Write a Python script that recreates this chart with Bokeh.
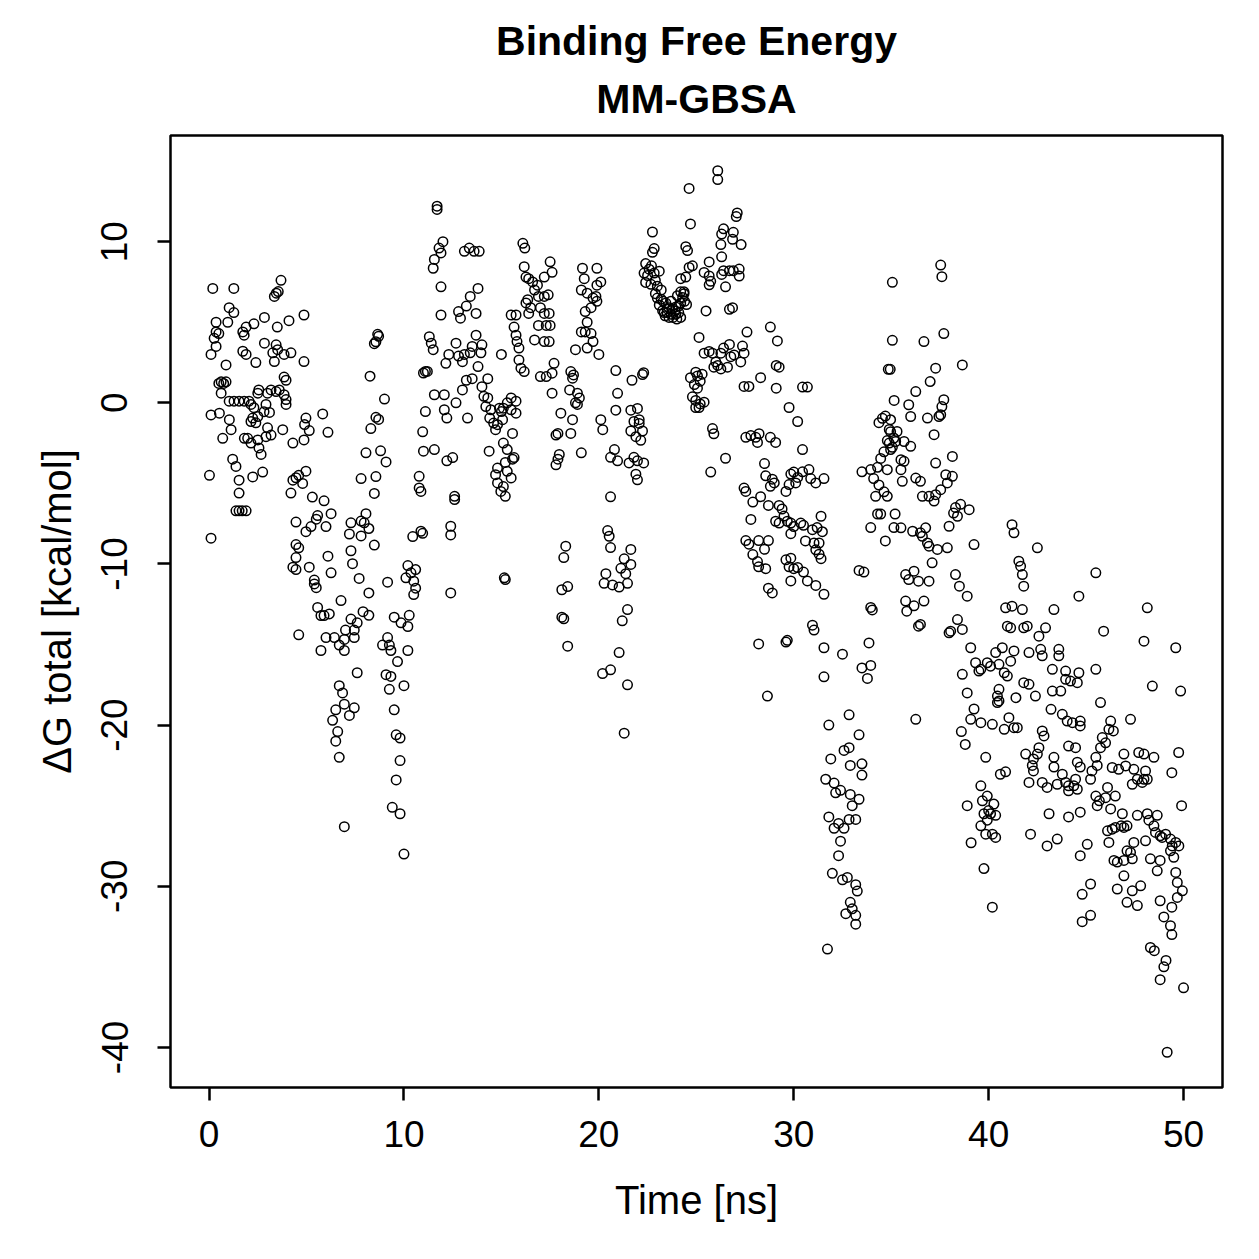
from bokeh.plotting import figure
from bokeh.models import Range1d, FixedTicker, Title, ColumnDataSource
from bokeh.embed import file_html
from bokeh.resources import INLINE

# ---- data (time [ns], dG total [kcal/mol]) ----
seg_00_05 = [(0.02,-4.5),(0.1,3.0),(0.1,-0.75),(0.1,-8.4),(0.19,7.1),(0.26,4.0),(0.36,3.5),(0.36,4.4),(0.36,5.0),(0.5,4.3),
 (0.53,-0.64),(0.5,1.2),(0.62,0.6),(0.62,1.3),(0.7,-2.2),(0.75,1.2),(0.87,1.3),(0.87,2.35),(0.96,5.0),(1.03,5.9),(1.03,0.1),
 (1.04,-1.05),(1.13,-1.67),(1.21,-3.5),(1.27,7.1),(1.27,5.6),(1.28,0.1),(1.38,-3.95),(1.38,-6.7),(1.54,-4.8),(1.54,-5.6),
 (1.54,-6.7),(1.54,0.1),(1.7,-6.7),(1.73,4.4),(1.73,3.2),(1.8,4.2),(1.8,0.1),(1.81,-2.2),(1.9,-6.7),(1.9,4.7),(1.9,3.0),
 (1.98,-2.2),(2.05,0.1),(2.15,-0.1),(2.15,-1.16),(2.15,-2.5),(2.24,-0.95),(2.24,-4.6),(2.3,4.9),(2.3,-0.3),(2.4,2.5),
 (2.4,-1.24),(2.5,-0.85),(2.5,-2.3),(2.5,0.6),(2.55,0.8),(2.56,-2.8),(2.67,-3.2),(2.75,-4.3),(2.82,-0.55),(2.84,5.3),
 (2.84,3.7),(2.92,-0.1),(2.92,-2.1),(3.0,0.6),(3.0,-1.55),(3.1,-0.6),(3.18,0.8),(3.18,-2.0),(3.27,3.1),(3.35,2.56),
 (3.35,6.6),(3.44,3.6),(3.44,0.7),(3.45,6.8),(3.5,4.7),(3.52,3.3),(3.55,6.9),(3.6,0.8),(3.69,7.6),(3.78,-1.67),(3.85,3.0),
 (3.85,1.6),(3.85,0.5),(3.95,1.4),(3.95,0.2),(3.95,-0.1),(4.1,5.1),(4.2,3.1),(4.2,-5.6),(4.3,-2.5),(4.3,-4.8),(4.3,-10.2),
 (4.46,-4.65),(4.46,-7.4),(4.46,-8.8),(4.46,-9.6),(4.46,-10.35),(4.6,-4.5),(4.6,-9.0),(4.6,-14.4),(4.8,-5.0),(4.87,-2.3),
 (4.87,5.45),(4.87,2.56),(4.9,-1.35),(4.97,-0.95),(4.97,-8.0)]

seg_05_10 = [(8.65,4.25),(8.7,4.13),(8.48,3.67),(8.56,3.79),(8.26,1.65),(9.0,0.23),(8.56,-0.9),(8.7,-1.03),(8.3,-1.6),
 (5.83,-0.69),(5.14,-1.72),(6.1,-1.83),(8.05,-3.1),(8.8,-2.98),(9.08,-3.67),(4.97,-4.24),(7.8,-4.7),(8.56,-4.58),
 (8.48,-5.62),(5.3,-5.85),(5.9,-6.08),(5.57,-7.0),(5.5,-7.22),(6.26,-6.88),(6.0,-7.68),(5.23,-7.68),(8.05,-6.88),
 (7.8,-7.34),(7.96,-7.45),(8.2,-7.8),(7.28,-7.45),(7.2,-8.14),(7.8,-8.26),(8.48,-8.83),(7.28,-9.18),(7.36,-9.98),
 (6.1,-9.52),(6.26,-10.55),(5.14,-10.2),(5.4,-11.0),(5.4,-11.24),(5.5,-11.47),(7.7,-10.9),(8.2,-11.8),(9.16,-11.13),
 (6.77,-12.27),(5.57,-12.7),(5.74,-13.2),(5.9,-13.2),(6.17,-13.1),(6.0,-14.57),(6.43,-14.57),(6.68,-15.03),(6.94,-15.37),
 (5.74,-15.37),(7.28,-13.42),(7.6,-13.65),(7.9,-12.96),(8.2,-13.19),(7.0,-14.1),(7.45,-14.1),(6.94,-14.68),(7.45,-14.57),
 (9.5,-13.3),(9.85,-13.65),(10.27,-13.19),(10.2,-13.88),(10.2,-15.37),(8.9,-15.03),(9.16,-14.57),(9.25,-15.03),
 (9.33,-15.37),(9.67,-16.06),(9.08,-16.87),(9.33,-16.98),(9.25,-17.78),(10.0,-17.55),(9.5,-19.05),(7.6,-16.75),
 (6.68,-17.55),(6.85,-18.0),(6.5,-19.05),(6.94,-18.7),(7.45,-18.93),(7.2,-19.4),(6.34,-19.7),(6.6,-20.4),(6.5,-21.0),
 (6.68,-22.0),(6.94,-26.3),(9.6,-20.6),(9.8,-20.8),(9.8,-22.2),(9.6,-23.4),(9.4,-25.1),(9.8,-25.5),(10.0,-28.0)]

seg_10_15 = [(11.7,12.2),(11.7,12.0),(12.0,10.0),(11.8,9.6),(11.9,9.3),(11.56,8.9),(11.5,8.35),(13.1,9.4),(13.35,9.6),
 (13.6,9.4),(13.86,9.4),(11.9,7.2),(13.8,7.1),(13.4,6.6),(13.2,6.0),(12.8,5.66),(12.9,5.25),(13.7,5.55),(11.9,5.45),
 (15.5,5.45),(13.7,4.2),(14.0,3.6),(12.67,3.7),(13.4,3.1),(13.1,3.0),(12.8,2.9),(12.3,3.0),(13.5,3.5),(13.95,3.1),
 (13.8,2.25),(12.15,2.45),(13.0,2.55),(15.0,3.0),(11.3,4.1),(11.4,3.7),(11.5,3.3),(11.1,1.95),(11.0,1.85),(11.2,1.95),
 (13.2,1.4),(13.5,1.5),(14.3,1.5),(13.0,0.8),(14.0,1.0),(11.56,0.5),(12.07,0.5),(12.67,0.0),(12.07,-0.43),(12.2,-0.95),
 (11.1,-0.54),(13.26,-0.95),(14.1,0.4),(14.3,0.3),(14.2,-0.23),(14.46,-0.43),(14.9,-0.33),(15.0,-0.54),(14.4,-0.95),
 (14.6,-1.26),(14.8,-1.36),(15.06,-1.05),(15.3,0.0),(15.5,-0.43),(10.96,-1.8),(11.0,-3.0),(11.56,-2.9),(12.5,-3.4),
 (12.2,-3.6),(14.7,-1.67),(14.37,-3.0),(15.1,-2.5),(15.3,-2.9),(14.8,-4.05),(14.7,-4.46),(14.8,-4.97),(15.1,-5.2),
 (14.97,-5.5),(15.2,-5.8),(10.78,-4.56),(10.78,-5.28),(10.87,-5.5),(12.6,-5.8),(12.6,-6.0),(10.45,-8.3),(10.87,-7.97),
 (10.96,-8.1),(12.4,-7.66),(12.4,-8.2),(10.2,-10.1),(10.36,-10.55),(10.6,-10.35),(10.1,-10.86),(10.5,-11.07),
 (10.6,-11.5),(10.5,-11.9),(12.4,-11.8),(15.15,-10.86),(15.2,-10.97)]

seg_15_20 = [(16.1,9.9),(16.2,9.6),(17.5,8.75),(17.6,8.1),(17.2,7.8),(16.17,8.45),(16.26,7.8),(16.4,7.7),(16.6,7.5),
 (16.85,7.3),(16.7,7.0),(16.35,6.4),(16.26,6.2),(16.5,5.9),(16.4,5.55),(16.9,6.6),(17.2,6.6),(17.4,6.7),(17.0,5.9),
 (17.2,5.55),(17.45,5.55),(17.5,4.8),(17.3,4.8),(16.9,4.8),(15.75,5.45),(15.65,4.7),(15.75,4.2),(15.8,3.8),(15.9,3.4),
 (15.9,2.66),(16.0,2.15),(16.17,1.94),(16.7,3.9),(17.2,3.8),(17.45,3.8),(19.16,8.35),(19.9,8.35),(19.25,7.7),(20.1,7.5),
 (19.9,7.3),(19.1,7.0),(19.4,6.8),(19.7,6.5),(19.85,6.6),(19.9,6.3),(19.6,5.9),(19.3,5.66),(19.4,5.0),(19.1,4.4),
 (19.3,4.4),(19.6,4.3),(19.7,3.8),(20.0,3.0),(19.4,3.4),(18.8,3.3),(17.7,2.45),(17.6,1.84),(17.3,1.63),(17.0,1.63),
 (17.6,0.6),(18.56,1.94),(18.7,1.73),(18.65,1.53),(18.5,0.8),(18.9,0.6),(19.0,0.3),(18.8,0.0),(18.9,-0.1),(18.05,-0.64),
 (18.65,-1.05),(18.56,-1.9),(17.9,-1.9),(17.8,-2.0),(20.2,-1.67),(15.5,0.3),(15.75,0.1),(15.75,-0.64),(15.1,-0.33),
 (15.57,-1.9),(15.65,-3.4),(15.57,-3.5),(15.2,-3.7),(15.3,-4.25),(15.5,-4.66),(17.97,-3.2),(17.9,-3.5),(17.8,-3.85),
 (19.1,-3.1),(18.3,-8.9),(18.2,-9.6),(18.4,-11.4),(18.1,-11.6),(18.1,-13.3),(18.2,-13.4),(18.4,-15.1)]

seg_20_25 = [(24.63,13.3),(24.7,11.1),(22.75,10.6),(22.84,9.57),(22.75,9.34),(24.46,9.69),(24.55,9.45),(24.63,8.4),
 (24.46,7.8),(22.4,8.64),(22.58,8.29),(22.32,8.05),(22.84,8.05),(23.1,8.17),(22.4,7.47),(22.67,7.35),(23.0,7.24),
 (22.9,6.77),(23.2,6.42),(23.1,6.07),(23.27,5.72),(23.5,5.84),(23.44,6.19),(23.7,6.31),(23.78,5.84),(23.95,5.95),
 (24.2,6.19),(24.3,6.54),(24.37,6.77),(24.1,5.6),(23.95,5.49),(23.7,5.49),(23.5,5.6),(23.35,5.6),(24.03,6.65),(24.2,6.89),
 (24.37,6.89),(22.5,7.9),(22.7,8.5),(23.0,6.5),(23.3,6.3),(23.6,5.3),(23.8,5.3),(24.0,5.2),(23.9,5.7),(23.6,5.9),
 (24.1,6.0),(24.4,6.3),(24.5,6.1),(23.4,5.4),(23.2,7.0),(22.9,7.6),(24.2,5.3),(24.2,7.7),(20.87,2.0),(21.7,1.4),
 (22.24,1.75),(22.3,1.87),(20.96,0.59),(20.87,-0.46),(21.64,-0.46),(21.98,-0.35),(22.07,-1.05),(21.8,-1.16),(22.07,-1.28),
 (22.24,-1.75),(21.64,-1.75),(21.9,-2.1),(22.15,-2.33),(20.8,-2.9),(20.6,-3.38),(20.96,-3.6),(21.55,-3.73),(21.8,-3.38),
 (21.98,-3.6),(22.3,-3.73),(21.9,-4.43),(21.98,-4.78),(20.1,-1.05),(20.6,-5.83),(20.45,-7.93),(20.53,-8.28),(20.6,-8.98),
 (21.64,-9.1),(21.3,-9.68),(21.13,-10.27),(21.64,-10.03),(21.38,-10.6),(20.36,-10.6),(20.27,-11.2),(20.7,-11.3),
 (21.04,-11.43),(21.47,-11.2),(21.47,-12.83),(21.2,-13.53),(21.04,-15.5),(20.19,-16.8),(20.6,-16.57),(21.47,-17.5),
 (21.3,-20.5)]

seg_25_30 = [(26.1,14.4),(26.1,13.85),(27.1,11.78),(27.05,11.56),(26.4,10.8),(26.3,10.47),(26.9,10.58),(26.86,10.15),
 (27.3,9.82),(26.26,9.82),(26.3,9.06),(24.8,8.5),(25.66,8.74),(25.4,8.09),(25.66,7.87),(25.74,7.54),(25.66,7.32),
 (26.4,8.2),(26.7,8.2),(26.9,8.2),(27.2,8.3),(27.2,7.87),(26.3,7.97),(26.5,7.2),(25.5,5.7),(26.7,5.8),(26.86,5.9),
 (28.8,4.7),(29.16,3.84),(27.6,4.39),(25.14,4.06),(25.4,3.08),(25.66,3.19),(25.83,3.08),(26.26,3.08),(26.4,3.4),
 (26.7,3.62),(26.94,2.97),(26.77,2.86),(27.37,3.52),(27.45,3.08),(27.28,2.54),(26.0,2.54),(26.1,2.32),(26.6,2.21),
 (26.26,2.1),(25.9,2.21),(24.97,1.9),(25.06,1.67),(25.3,1.78),(24.7,1.56),(25.2,1.34),(24.9,1.13),(25.06,0.91),
 (24.8,0.37),(24.97,0.15),(25.2,-0.07),(25.4,0.04),(25.14,-0.29),(24.97,-0.29),(29.1,2.32),(29.25,2.21),(29.1,0.91),
 (28.3,1.56),(27.45,1.02),(27.7,1.02),(29.76,-0.29),(30.2,-1.16),(25.83,-1.6),(25.9,-1.92),(26.5,-3.44),(25.74,-4.3),
 (27.54,-2.14),(27.8,-2.03),(28.05,-2.14),(28.14,-2.46),(28.22,-1.92),(28.8,-2.14),(29.07,-2.46),(28.5,-3.77),
 (28.56,-4.53),(28.9,-4.74),(29.0,-4.97),(28.8,-5.18),(29.85,-4.42),(30.0,-4.3),(30.2,-4.63),(29.76,-5.07),(29.6,-5.5),
 (30.1,-4.97),(27.45,-5.29),(27.54,-5.5),(27.9,-6.16),(28.3,-5.83),(28.7,-6.37),(29.25,-6.37),(29.4,-6.59),(29.5,-7.03),
 (29.07,-7.35),(29.25,-7.46),(29.67,-7.35),(29.85,-7.46),(30.0,-7.68),(27.8,-7.24),(29.85,-8.12),(27.54,-8.55),
 (27.7,-8.77),(28.2,-8.55),(28.5,-9.09),(28.7,-8.55),(27.9,-9.42),(28.14,-9.85),(28.2,-10.18),(28.56,-10.29),
 (29.6,-9.74),(29.85,-9.64),(29.76,-10.18),(30.0,-10.29),(28.7,-11.5),(28.9,-11.8),(28.2,-14.96),(29.6,-14.85),
 (29.67,-14.74),(28.65,-18.2)]

seg_30_35 = [(35.06,7.48),(35.06,3.88),(34.85,2.08),(34.95,2.08),(35.15,0.15),(30.45,0.98),(30.7,0.98),(30.45,-2.9),
 (30.45,-4.28),(30.78,-4.14),(30.87,-4.7),(31.13,-4.97),(31.55,-4.7),(31.4,-7.04),(31.47,-8.0),(31.2,-7.74),(30.96,-7.87),
 (30.5,-7.6),(30.36,-7.46),(30.6,-8.57),(31.04,-8.7),(31.13,-9.12),(31.3,-9.39),(31.4,-9.67),(31.3,-8.7),(30.2,-10.22),
 (30.5,-10.5),(30.7,-11.05),(31.13,-11.33),(31.55,-11.88),(29.85,-11.05),(30.96,-13.8),(31.04,-14.1),(31.55,-15.2),
 (32.5,-15.6),(31.55,-17.0),(33.5,-4.28),(33.95,-4.14),(34.3,-4.0),(34.46,-3.45),(34.63,-3.04),(34.8,-2.34),(34.9,-1.65),
 (34.37,-1.23),(34.55,-0.96),(34.7,-0.82),(34.97,-1.79),(35.06,-2.76),(34.1,-4.7),(34.37,-5.1),(34.63,-5.52),(34.2,-5.8),
 (34.3,-6.9),(34.46,-6.9),(33.95,-7.74),(34.7,-8.57),(35.14,-7.74),(35.2,-6.9),(33.35,-10.4),(33.6,-10.5),(33.95,-12.7),
 (34.03,-12.85),(33.86,-14.9),(33.5,-16.45),(33.95,-16.3),(33.78,-17.1),(32.84,-19.36),(31.8,-20.0),(32.58,-21.57),
 (32.84,-21.4),(33.35,-20.6),(31.9,-22.1),(32.9,-22.5),(33.5,-22.4),(33.5,-23.1),(31.64,-23.36),(32.07,-23.6),
 (32.15,-24.2),(32.4,-24.05),(32.9,-24.3),(33.35,-24.6),(33.0,-25.0),(31.8,-25.7),(32.07,-26.4),(32.3,-26.1),
 (32.58,-26.4),(32.84,-25.85),(33.18,-25.85),(32.4,-27.2),(32.3,-28.1),(31.98,-29.2),(32.5,-29.6),(32.75,-29.45),
 (33.18,-29.9),(33.26,-30.3),(32.9,-31.0),(33.0,-31.4),(32.67,-31.7),(33.18,-31.8),(33.18,-32.35),(31.73,-33.9)]

seg_35_40 = [(37.54,8.55),(37.6,7.83),(36.68,3.8),(37.7,4.3),(38.65,2.35),(37.28,2.15),(37.0,1.32),(36.26,0.7),(35.9,-0.12),
 (36.0,-0.85),(36.86,-0.95),(37.54,-0.74),(37.6,-0.23),(37.7,0.19),(37.45,-0.85),(34.97,-1.05),(35.3,-1.78),(35.14,-2.19),
 (34.9,-2.5),(35.23,-2.4),(35.66,-2.4),(36.0,-2.7),(34.97,-2.9),(35.5,-3.53),(35.66,-3.63),(35.5,-4.15),(35.57,-4.87),
 (34.8,-4.15),(34.8,-5.8),(37.2,-1.98),(37.28,-3.74),(38.14,-3.33),(37.8,-4.46),(38.14,-4.56),(37.88,-4.97),(37.54,-5.39),
 (37.28,-5.7),(37.2,-6.1),(36.94,-5.8),(36.6,-5.8),(36.26,-4.67),(36.5,-4.87),(38.3,-6.5),(38.56,-6.3),(39.0,-6.63),
 (38.2,-6.84),(38.4,-7.04),(37.97,-7.66),(39.25,-8.8),(35.5,-7.76),(36.1,-7.97),(36.5,-8.07),(36.77,-7.76),(36.6,-8.28),
 (36.86,-8.7),(36.94,-8.9),(37.37,-9.1),(37.88,-9.0),(37.1,-9.93),(35.74,-10.66),(35.9,-10.97),(36.17,-10.45),(36.4,-11.07),
 (36.94,-11.07),(38.3,-10.66),(38.5,-11.38),(38.9,-12.0),(35.74,-12.3),(35.8,-12.93),(36.17,-12.6),(36.68,-12.3),
 (36.4,-13.86),(36.5,-13.75),(38.4,-13.45),(38.65,-14.06),(37.97,-14.27),(38.05,-14.17),(39.08,-15.2),(39.33,-16.13),
 (39.5,-16.65),(38.65,-16.85),(38.9,-18.0),(39.25,-19.0),(36.26,-19.64),(39.08,-19.64),(38.6,-20.4),(38.8,-21.2),
 (38.9,-25.0),(39.1,-27.3)]

seg_40_45 = [(41.2,-7.56),(41.3,-8.07),(42.5,-9.0),(41.55,-9.83),(41.64,-10.14),(41.73,-10.66),(41.8,-11.38),(44.63,-12.0),
 (43.35,-12.83),(40.87,-12.72),(41.2,-12.62),(41.73,-12.83),(40.96,-13.86),(41.13,-13.96),(41.8,-13.96),(41.98,-13.86),
 (42.92,-13.96),(42.58,-14.48),(40.36,-15.5),(40.7,-15.2),(41.3,-15.4),(42.07,-15.5),(42.67,-15.3),(42.75,-15.7),
 (43.6,-15.3),(43.6,-15.7),(39.93,-16.13),(39.6,-16.54),(40.1,-16.34),(40.53,-16.23),(41.13,-16.03),(40.8,-16.75),
 (40.96,-16.96),(43.27,-16.54),(43.95,-16.65),(43.95,-17.16),(44.2,-17.27),(44.55,-17.37),(43.7,-17.89),(43.27,-17.89),
 (43.2,-19.02),(43.78,-19.33),(44.03,-19.75),(44.3,-19.85),(44.7,-20.05),(44.7,-19.75),(41.8,-17.37),(42.07,-17.47),
 (41.4,-18.3),(42.4,-18.2),(40.53,-17.78),(40.45,-18.2),(40.53,-18.5),(40.45,-18.6),(39.6,-19.85),(40.19,-19.95),
 (40.8,-20.26),(41.04,-19.54),(41.3,-20.16),(41.47,-20.16),(42.75,-20.36),(42.84,-20.67),(42.58,-21.4),(42.5,-21.8),
 (41.9,-21.8),(42.3,-22.1),(42.24,-22.5),(42.3,-22.84),(42.07,-23.56),(42.75,-23.56),(43.0,-23.87),(43.35,-22.0),
 (43.35,-22.6),(43.78,-23.05),(43.52,-23.67),(43.95,-23.56),(44.1,-23.77),(44.37,-23.77),(44.55,-23.98),(44.1,-24.08),
 (44.1,-21.3),(44.55,-22.3),(44.7,-22.6),(39.85,-22.0),(40.6,-23.05),(40.87,-22.9),(39.6,-23.77),(39.68,-24.7),
 (39.93,-24.4),(40.27,-24.9),(40.0,-25.3),(40.1,-25.5),(39.76,-25.5),(39.93,-25.9),(40.36,-25.6),(39.6,-26.25),
 (39.85,-26.77),(40.19,-26.77),(40.36,-26.97),(43.1,-25.5),(44.1,-25.7),(44.7,-25.4),(42.15,-26.77),(43.0,-27.5),
 (43.52,-27.07),(44.7,-28.1),(39.76,-28.9),(40.19,-31.3),(44.8,-30.5),(44.8,-32.2)]

seg_45_50 = [(45.5,-10.55),(48.14,-12.72),(45.9,-14.17),(47.97,-14.79),(49.6,-15.2),(45.5,-16.54),(44.63,-16.75),
 (48.4,-17.58),(49.85,-17.89),(45.74,-18.6),(47.28,-19.64),(46.26,-19.75),(46.4,-20.36),(46.17,-20.26),(45.83,-20.77),
 (45.74,-21.4),(46.0,-21.1),(46.94,-21.8),(47.7,-21.7),(47.97,-21.8),(48.48,-22.0),(49.75,-21.7),(49.4,-22.95),
 (44.46,-21.4),(45.5,-22.0),(45.57,-22.5),(45.3,-22.84),(45.23,-23.36),(44.46,-23.36),(46.34,-22.63),(46.67,-22.74),
 (47.03,-22.53),(47.45,-22.74),(48.05,-22.84),(47.97,-23.36),(47.88,-23.56),(48.14,-23.36),(47.63,-23.36),(47.37,-23.67),
 (45.5,-24.4),(45.68,-24.7),(46.1,-23.87),(46.0,-24.5),(45.57,-25.0),(46.5,-24.4),(46.26,-25.2),(46.86,-25.5),
 (46.8,-26.25),(47.1,-26.25),(46.94,-26.35),(46.1,-26.56),(46.34,-26.46),(46.5,-26.35),(47.63,-25.6),(48.14,-25.5),
 (48.22,-25.9),(48.48,-26.25),(48.56,-26.66),(48.8,-26.87),(49.08,-26.77),(49.33,-27.07),(49.6,-27.28),(49.76,-27.5),
 (49.42,-27.5),(48.9,-26.97),(48.65,-25.6),(49.9,-25.0),(45.06,-27.4),(46.17,-27.28),(46.43,-28.4),(46.6,-28.5),
 (46.94,-28.4),(47.1,-27.8),(47.28,-27.9),(47.37,-28.3),(47.45,-27.28),(48.05,-27.18),(48.3,-28.3),(48.8,-28.4),
 (49.5,-28.2),(49.33,-27.8),(46.94,-29.35),(46.6,-30.17),(47.1,-31.0),(47.63,-31.2),(47.8,-29.97),(47.37,-30.28),
 (48.65,-29.04),(49.6,-29.14),(49.68,-29.76),(49.94,-30.28),(49.68,-30.69),(48.8,-30.9),(49.4,-31.3),(48.99,-31.9),
 (49.33,-32.45),(45.23,-29.86),(45.23,-31.8),(48.3,-33.8),(48.5,-34.0),(49.1,-34.6),(48.99,-35.0),(48.8,-35.8),
 (49.4,-33.0),(50.0,-36.3),(49.16,-40.3)]

x_ticks = [0, 10, 20, 30, 40, 50]
y_ticks = [-40, -30, -20, -10, 0, 10]
title_line1 = "Binding Free Energy"
title_line2 = "MM-GBSA"
x_label = "Time [ns]"
y_label = "\u0394G total [kcal/mol]"

segments = [seg_00_05, seg_05_10, seg_10_15, seg_15_20, seg_20_25,
            seg_25_30, seg_30_35, seg_35_40, seg_40_45, seg_45_50]
time_ns = [t for seg in segments for (t, g) in seg]
dg_total = [g for seg in segments for (t, g) in seg]

# R-style 4% axis padding
def padded(vals):
    lo, hi = min(vals), max(vals)
    d = 0.04 * (hi - lo)
    return lo - d, hi + d

xlo, xhi = padded(time_ns)
ylo, yhi = padded(dg_total)

FONT = "Liberation Sans"

p = figure(width=1259, height=1259, output_backend="svg", toolbar_location=None,
           x_range=Range1d(xlo, xhi), y_range=Range1d(ylo, yhi),
           min_border_left=170, min_border_right=37, min_border_top=135, min_border_bottom=172)
p.title = None
p.add_layout(Title(text=title_line2, align="center", text_font=FONT, text_font_size="41px",
                   text_font_style="bold", text_color="black", standoff=28), "above")
p.add_layout(Title(text=title_line1, align="center", text_font=FONT, text_font_size="41px",
                   text_font_style="bold", text_color="black", standoff=-8), "above")

p.background_fill_color = "white"
p.border_fill_color = "white"
p.outline_line_color = "black"
p.outline_line_width = 2.5
p.grid.visible = False

for ax in (p.xaxis[0], p.yaxis[0]):
    ax.axis_line_color = None
    ax.major_tick_line_color = "black"
    ax.major_tick_line_width = 2.5
    ax.major_tick_out = 13
    ax.major_tick_in = 0
    ax.minor_tick_line_color = None
    ax.major_label_text_font = FONT
    ax.major_label_text_font_size = "37px"
    ax.major_label_text_color = "black"
    ax.axis_label_text_font = FONT
    ax.axis_label_text_font_size = "40px"
    ax.axis_label_text_font_style = "normal"
    ax.axis_label_text_color = "black"

p.xaxis[0].ticker = FixedTicker(ticks=x_ticks)
p.yaxis[0].ticker = FixedTicker(ticks=y_ticks)
p.xaxis[0].major_label_overrides = {t: str(t) for t in x_ticks}
p.yaxis[0].major_label_overrides = {t: str(t) for t in y_ticks}
p.xaxis[0].axis_label = x_label
p.yaxis[0].axis_label = y_label
p.xaxis[0].major_label_standoff = 20
p.yaxis[0].major_label_standoff = 30
p.yaxis[0].major_label_orientation = "vertical"
p.xaxis[0].axis_label_standoff = 28
p.yaxis[0].axis_label_standoff = 20

src = ColumnDataSource(data=dict(t=time_ns, g=dg_total))
p.scatter("t", "g", source=src, marker="circle", size=9.5, fill_color=None,
          line_color="black", line_width=1.5)

open("out.html", "w").write(file_html(p, INLINE))
